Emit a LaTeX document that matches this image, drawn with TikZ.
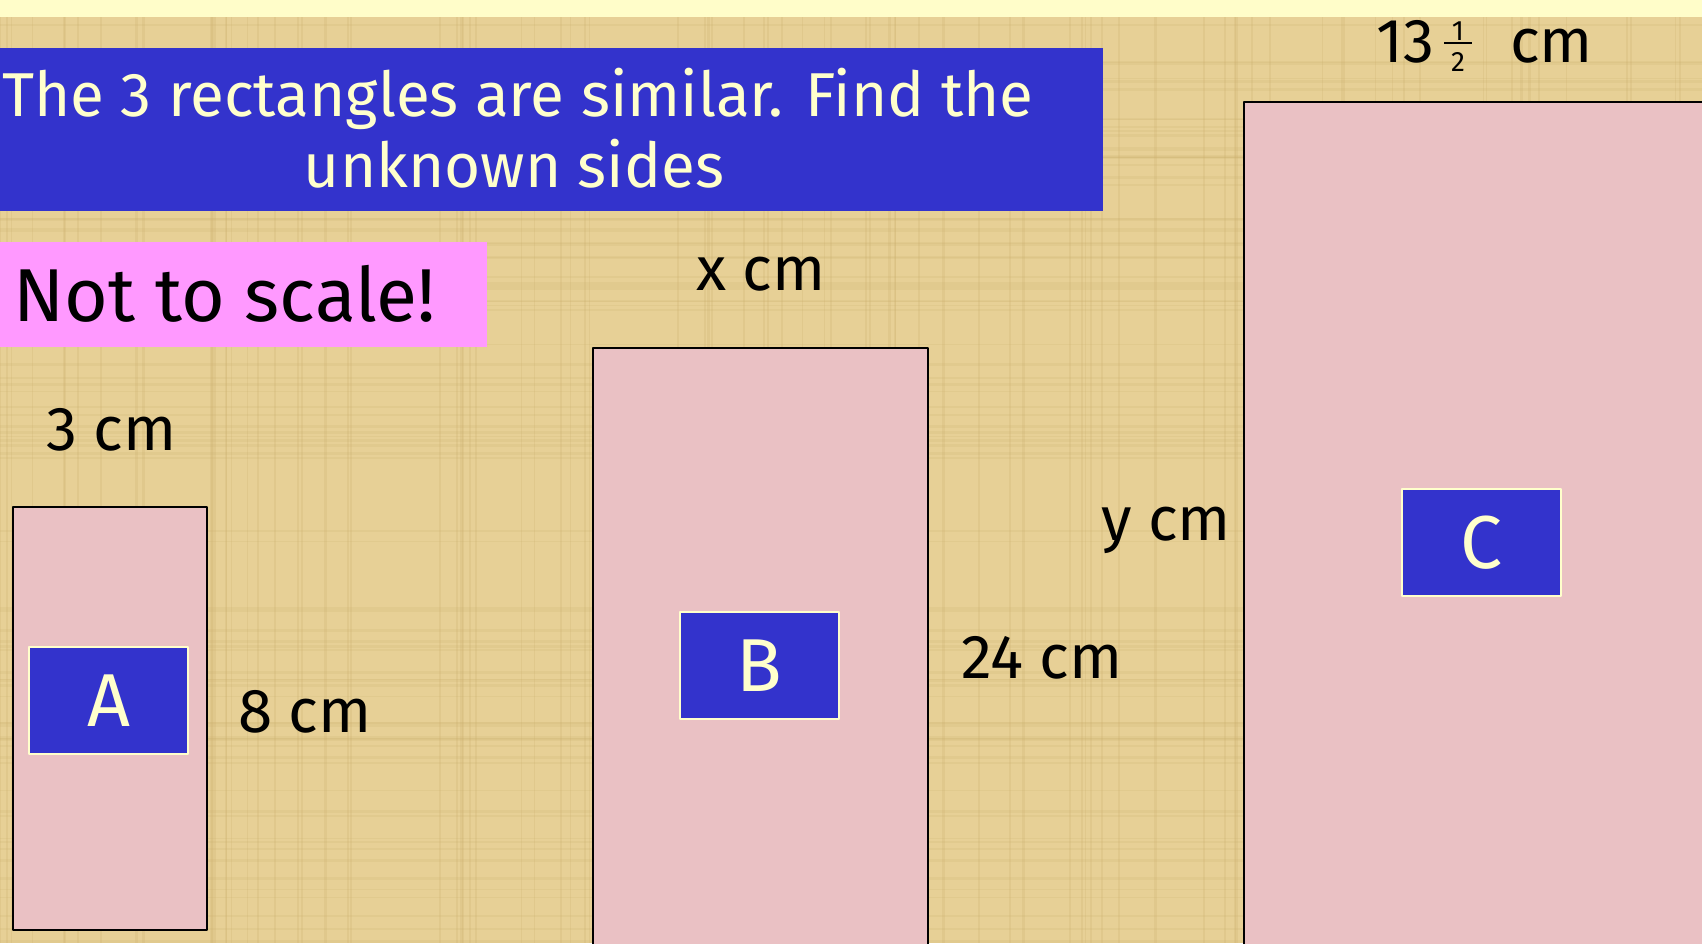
\documentclass[tikz,border=0pt]{standalone}
\usepackage{fontspec}
\setmainfont{Fira Sans}
\definecolor{papercolor}{RGB}{231,208,150}
\definecolor{weavecolor}{RGB}{205,178,112}
\definecolor{stripcolor}{RGB}{255,253,201}
\definecolor{cardcolor}{RGB}{234,193,196}
\definecolor{titleblue}{RGB}{51,51,204}
\definecolor{notepink}{RGB}{255,153,255}
\definecolor{creamtext}{RGB}{255,255,204}
\tikzset{
  slide/.style={x=1pt,y=-1pt,line join=round},
  card/.style={draw=black,line width=2.2pt,fill=cardcolor,inner sep=0pt,anchor=north west},
  panel/.style={inner sep=0pt,anchor=north west},
  tag/.style={draw=creamtext,line width=1.5pt,fill=titleblue,text=creamtext,
    minimum width=159pt,minimum height=107pt,font=\fontsize{75}{75}\selectfont},
  headline/.style={anchor=base,inner sep=0pt,text=creamtext,font=\fontsize{62}{62}\selectfont},
  dimlabel/.style={anchor=base west,inner sep=0pt,font=\fontsize{62}{62}\selectfont},
}
\newcommand{\lettertag}[3]{% \lettertag{name}{centre}{letter}
  \node[tag] (#1) at (#2) {#3}}
\newcommand{\halffrac}{\hbox{\fontsize{28}{28}\selectfont
  \raisebox{22pt}{\makebox[28pt]{1}}\kern-28pt
  \raisebox{18pt}{\rule{28pt}{2.5pt}}\kern-28pt
  \raisebox{-9pt}{\makebox[28pt]{2}}}}

\begin{document}
\begin{tikzpicture}[slide]
  \useasboundingbox (0,0) rectangle (1702,943);
  \clip (0,0) rectangle (1702,943);
  \fill[papercolor] (0,17) rectangle (1702,943);
  % woven paper texture
  \pgfmathsetseed{7}
  \foreach \i in {1,...,90}{
    \pgfmathsetmacro{\u}{rnd*1702}
    \draw[weavecolor,opacity=0.25,line width={1+2*rnd}] (\u,17) -- (\u,943);
    \pgfmathsetmacro{\v}{17+rnd*926}
    \draw[weavecolor,opacity=0.2,line width={1+2*rnd}] (0,\v) -- (1702,\v);
  }
  \fill[stripcolor] (0,0) rectangle (1702,17);
  % heading and warning
  \node[panel,fill=titleblue,minimum width=1103pt,minimum height=163pt] (title) at (0,48) {};
  \node[headline] (titletop) at (518,116) {The 3 rectangles are similar. Find the};
  \node[headline] (titlebot) at (514,187) {unknown sides};
  \node[panel,fill=notepink,minimum width=487pt,minimum height=105pt] (note) at (0,242) {};
  \node[dimlabel,font=\fontsize{75}{75}\selectfont] (notetext) at (13,321) {Not to scale!};
  % the three rectangles
  \node[card,minimum width=194pt,minimum height=423pt] (rectA) at (12,506) {};
  \node[card,minimum width=335pt,minimum height=620pt] (rectB) at (592,347) {};
  \node[card,minimum width=480pt,minimum height=860pt] (rectC) at (1243,101) {};
  \lettertag{tagA}{108.5,700.5}{A};
  \lettertag{tagB}{759.5,665.5}{B};
  \lettertag{tagC}{1481.5,542.5}{C};
  % side lengths
  \node[dimlabel] (widthA) at (46,450) {3 cm};
  \node[dimlabel] (heightA) at (238,732) {8 cm};
  \node[dimlabel] (widthB) at (696,290) {x cm};
  \node[dimlabel] (heightB) at (961,678) {24 cm};
  \node[dimlabel] (heightC) at (1101,540) {y cm};
  \node[dimlabel] (widthC) at (1376,62) {13\kern10pt\halffrac\kern38pt cm};
\end{tikzpicture}
\end{document}
